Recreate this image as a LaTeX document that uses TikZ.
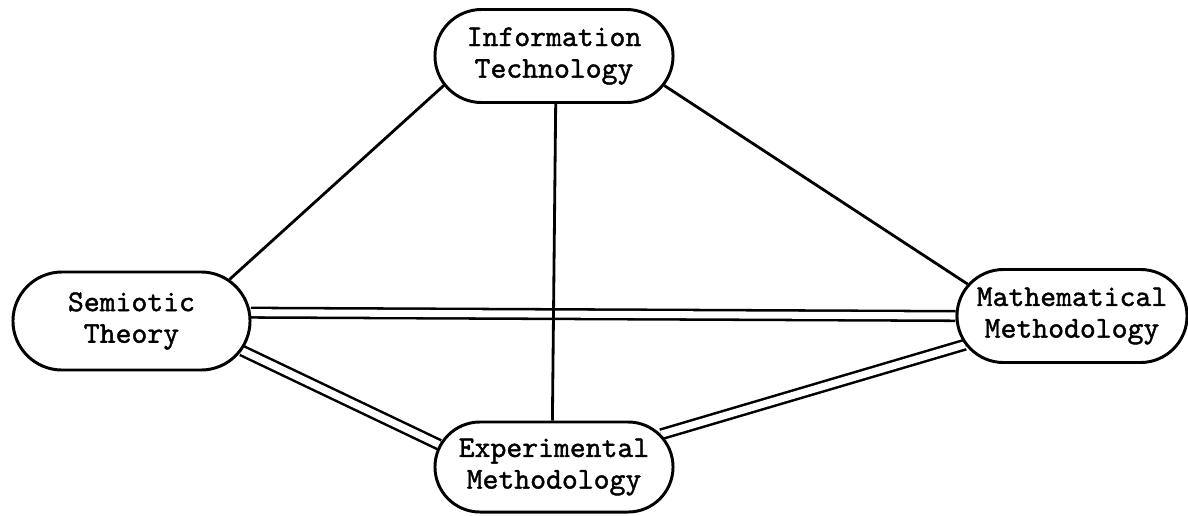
\documentclass[tikz,border=0pt]{standalone}
\usepackage{fontspec}
\newfontfamily\typewriter[FakeBold=1.3]{lmmono10-regular.otf}
\usetikzlibrary{shapes.misc,backgrounds}
\begin{document}
\begin{tikzpicture}[x=0.025cm,y=-0.025cm,
  field/.style={rounded rectangle, draw, line width=2.1pt, align=center,
    inner sep=0pt, font=\typewriter\fontsize{21.5}{22.5}\selectfont},
  link/.style={line width=2pt},
  twin/.style={double, double distance=5pt, line width=1.8pt}]
\useasboundingbox (0,0) rectangle (1188,515);

\node[field, minimum width=5.95cm, minimum height=2.325cm] (it) at (554,56)
  {Information\\Technology};
\node[field, minimum width=5.925cm, minimum height=2.45cm] (st) at (131.5,321)
  {Semiotic\\Theory};
\node[field, minimum width=5.75cm, minimum height=2.325cm] (mm) at (1072,316)
  {Mathematical\\Methodology};
\node[field, minimum width=5.95cm, minimum height=2.25cm] (em) at (554,467)
  {Experimental\\Methodology};

\begin{pgfonlayer}{background}
  % double links between the three lower fields
  \draw[twin] (st.4) -- (mm.180);
  \draw[twin] (st.-15) -- (em.169);
  \draw[twin] (em.17) -- (mm.195.7);
  % single links from the top field, the vertical one crossing over
  \draw[link] (it.195) -- (st.23);
  \draw[link] (it.-15.6) -- (mm.163.6);
  \draw[link] (it.-88.8) -- (em.92.5);
\end{pgfonlayer}
\end{tikzpicture}
\end{document}
